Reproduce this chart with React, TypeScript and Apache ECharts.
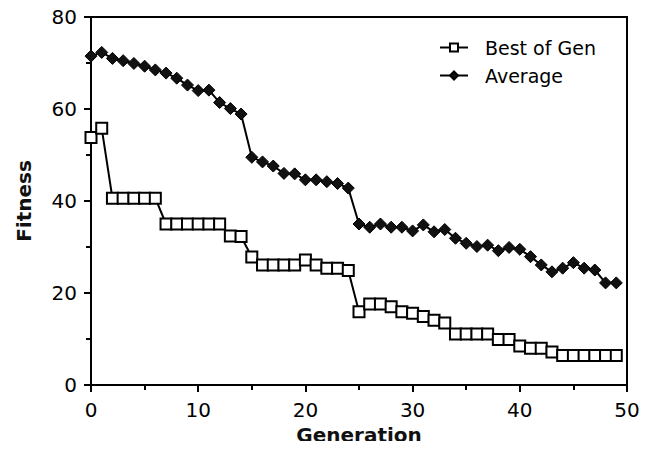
import React, { useEffect, useRef } from "react";
import * as echarts from "echarts";

const generations = Array.from({ length: 50 }, (_, i) => i);
const bestOfGen = [
  53.8, 55.8, 40.6, 40.6, 40.6, 40.6, 40.6, 35.0, 35.0, 35.0,
  35.0, 35.0, 35.0, 32.4, 32.3, 27.8, 26.1, 26.1, 26.1, 26.1,
  27.2, 26.1, 25.4, 25.4, 24.9, 15.9, 17.6, 17.6, 17.0, 15.9,
  15.6, 14.9, 14.1, 13.5, 11.1, 11.1, 11.1, 11.1, 9.9, 9.9,
  8.5, 8.0, 8.0, 7.2, 6.4, 6.4, 6.4, 6.4, 6.4, 6.4,
];
const average = [
  71.5, 72.3, 71.0, 70.5, 69.9, 69.3, 68.5, 67.8, 66.7, 65.2,
  64.0, 64.1, 61.4, 60.1, 58.9, 49.5, 48.5, 47.6, 46.0, 45.9,
  44.6, 44.6, 44.2, 43.8, 42.8, 35.0, 34.3, 35.0, 34.3, 34.3,
  33.5, 34.8, 33.3, 33.8, 31.9, 30.8, 30.1, 30.4, 29.2, 29.9,
  29.5, 27.9, 26.1, 24.6, 25.4, 26.6, 25.4, 25.0, 22.2, 22.2,
];

const FONT = "DejaVu Sans";

export default function App() {
  const ref = useRef<HTMLDivElement>(null);
  useEffect(() => {
    if (!ref.current) return;
    const chart = echarts.init(ref.current, undefined, { renderer: "svg" });
    chart.setOption({
      animation: false,
      backgroundColor: "#fff",
      grid: {
        left: 91,
        right: 30,
        top: 17,
        bottom: 64,
        containLabel: false,
        outerBoundsMode: "none",
        show: true,
        borderColor: "#000",
        borderWidth: 2,
      },
      legend: {
        left: 434,
        top: 33,
        orient: "vertical",
        itemWidth: 28,
        itemHeight: 10,
        itemGap: 9,
        textStyle: {
          fontFamily: FONT,
          fontSize: 19,
          color: "#000",
          padding: [0, 0, 0, 12],
        },
        data: ["Best of Gen", "Average"],
      },
      xAxis: {
        type: "value",
        min: 0,
        max: 50,
        interval: 10,
        name: "Generation",
        nameLocation: "middle",
        nameGap: 40,
        nameTextStyle: {
          fontFamily: FONT,
          fontSize: 20,
          fontWeight: "bold",
          color: "#111",
          lineHeight: 20,
        },
        axisLine: { onZero: false, lineStyle: { color: "#000", width: 2 } },
        axisTick: { show: true, inside: false, length: 7, lineStyle: { color: "#000", width: 2 } },
        minorTick: { show: true, splitNumber: 2, length: 5, lineStyle: { color: "#000", width: 2 } },
        axisLabel: { fontFamily: FONT, fontSize: 20, color: "#000", margin: 15 },
        splitLine: { show: false },
      },
      yAxis: {
        type: "value",
        min: 0,
        max: 80,
        interval: 20,
        name: "Fitness",
        nameLocation: "middle",
        nameGap: 57,
        nameTextStyle: { fontFamily: FONT, fontSize: 20, fontWeight: "bold", color: "#111" },
        axisLine: { onZero: false, lineStyle: { color: "#000", width: 2 } },
        axisTick: { show: true, inside: false, length: 7, lineStyle: { color: "#000", width: 2 } },
        minorTick: { show: true, splitNumber: 2, length: 5, lineStyle: { color: "#000", width: 2 } },
        axisLabel: { fontFamily: FONT, fontSize: 20, color: "#000", margin: 14 },
        splitLine: { show: false },
      },
      series: [
        {
          name: "Best of Gen",
          type: "line",
          data: generations.map((g, i) => [g, bestOfGen[i]]),
          symbol: "rect",
          symbolSize: 11,
          lineStyle: { color: "#000", width: 2 },
          itemStyle: { color: "#fff", borderColor: "#000", borderWidth: 2 },
          z: 2,
        },
        {
          name: "Average",
          type: "line",
          data: generations.map((g, i) => [g, average[i]]),
          symbol: "diamond",
          symbolSize: [12, 12],
          lineStyle: { color: "#000", width: 2 },
          itemStyle: { color: "#111", borderColor: "#000", borderWidth: 1 },
          z: 3,
        },
      ],
    });
    return () => chart.dispose();
  }, []);
  return <div ref={ref} style={{ width: 657, height: 449, margin: -8 }} />;
}
